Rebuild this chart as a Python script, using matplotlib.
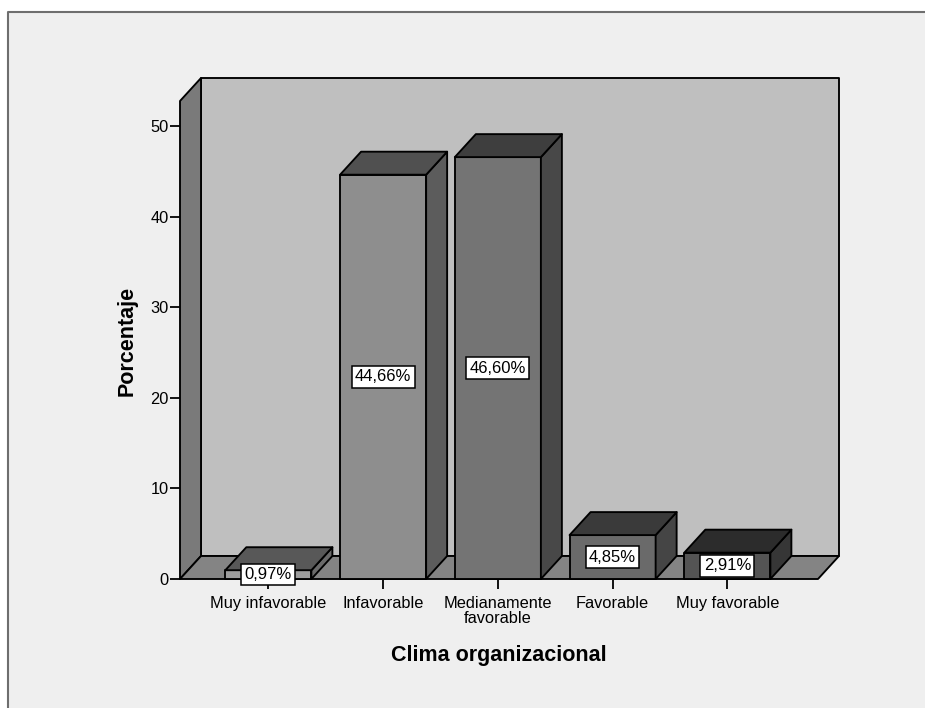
import matplotlib
matplotlib.use('Agg')
import matplotlib.pyplot as plt
from matplotlib.patches import Polygon, Rectangle
from matplotlib.lines import Line2D

categorias = ['Muy infavorable', 'Infavorable', 'Medianamente\nfavorable', 'Favorable', 'Muy favorable']
porcentajes = [0.97, 44.66, 46.60, 4.85, 2.91]
etiquetas = ['0,97%', '44,66%', '46,60%', '4,85%', '2,91%']

# tonos de cada barra: frente, lateral y tapa
colores_frente = ['#9c9c9c', '#8e8e8e', '#747474', '#6a6a6a', '#545454']
colores_lado = ['#6a6a6a', '#5c5c5c', '#484848', '#454545', '#363636']
colores_tapa = ['#585858', '#505050', '#3e3e3e', '#3a3a3a', '#2c2c2c']

plt.rcParams['font.family'] = ['Liberation Sans', 'DejaVu Sans']

W, H = 925, 708
fig = plt.figure(figsize=(W / 100, H / 100), dpi=100)
fig.patch.set_facecolor('white')

# fondo y marco gris (solo lados izquierdo y superior quedan dentro)
fig.patches.append(Rectangle((8 / W, 0), 1, (H - 12) / H, transform=fig.transFigure,
                             facecolor='#efefef', edgecolor='none', zorder=-5))
fig.lines.append(Line2D([8 / W, 8 / W, 1], [0, (H - 12) / H, (H - 12) / H],
                        transform=fig.transFigure, color='#6e6e6e', linewidth=1.5, zorder=-4))

ax = fig.add_axes([180 / W, (H - 579) / H, (818 - 180) / W, (579 - 101) / H])
ax.set_facecolor('none')
for s in ax.spines.values():
    s.set_visible(False)

x0, x1 = -0.77, 4.79
ymax = 52.8
dx, dy = 0.183, 2.54
ax.set_xlim(x0, x1)
ax.set_ylim(0, ymax)


def cara(puntos, color, z):
    ax.add_patch(Polygon(puntos, closed=True, facecolor=color, edgecolor='black',
                         linewidth=1.35, joinstyle='round', clip_on=False, zorder=z))


# pared del fondo, pared izquierda y piso
cara([(x0 + dx, dy), (x1 + dx, dy), (x1 + dx, ymax + dy), (x0 + dx, ymax + dy)], '#bfbfbf', 1)
cara([(x0, 0), (x0 + dx, dy), (x0 + dx, ymax + dy), (x0, ymax)], '#7a7a7a', 2)
cara([(x0, 0), (x1, 0), (x1 + dx, dy), (x0 + dx, dy)], '#848484', 2)

w = 0.375
for i, v in enumerate(porcentajes):
    z = 3 + i
    cara([(i - w, 0), (i + w, 0), (i + w, v), (i - w, v)], colores_frente[i], z)
    cara([(i + w, 0), (i + w + dx, dy), (i + w + dx, v + dy), (i + w, v)], colores_lado[i], z)
    cara([(i - w, v), (i + w, v), (i + w + dx, v + dy), (i - w + dx, v + dy)], colores_tapa[i], z)
    ax.text(i, v / 2, etiquetas[i], ha='center', va='center', fontsize=12, zorder=20,
            bbox=dict(boxstyle='square,pad=0.2', facecolor='white', edgecolor='black', linewidth=1.1))

ax.set_xticks(range(len(categorias)))
ax.set_xticklabels(categorias, fontsize=11.8, linespacing=1.0)
ax.set_yticks(range(0, 51, 10))
ax.tick_params(axis='y', direction='out', length=7, width=1.3, pad=1, labelsize=11.8)
ax.tick_params(axis='x', direction='out', length=7, width=1.3, pad=5)

fig.text(499 / W, 1 - 655 / H, 'Clima organizacional', ha='center', va='center',
         fontsize=15.5, fontweight='bold')
fig.text(127 / W, 1 - 341 / H, 'Porcentaje', ha='center', va='center', rotation=90,
         fontsize=15.5, fontweight='bold')

fig.savefig('out.png', dpi=100, facecolor=fig.get_facecolor())
